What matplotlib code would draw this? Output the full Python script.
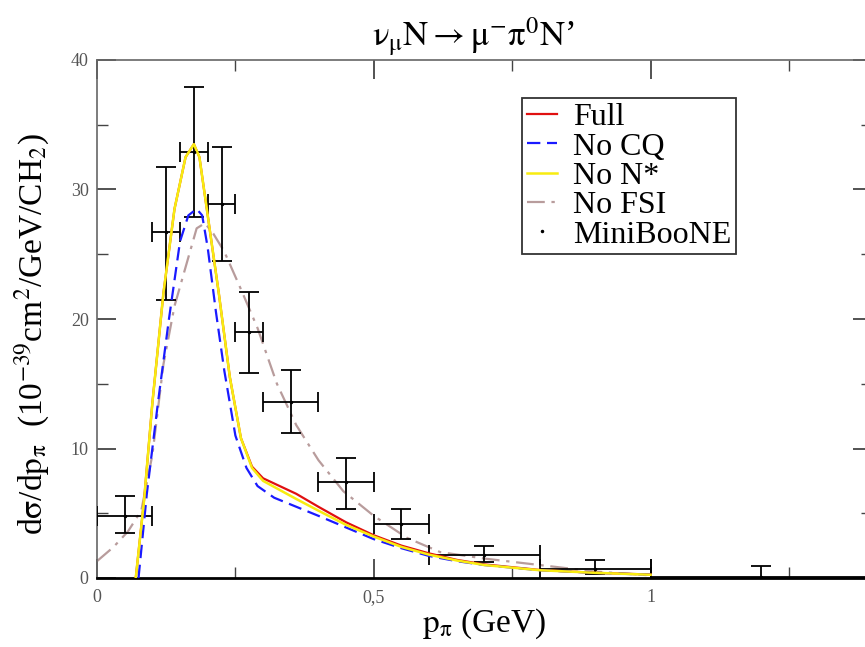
import matplotlib
matplotlib.use("Agg")
import matplotlib.pyplot as plt
from matplotlib.ticker import FixedLocator, FuncFormatter

plt.rcParams["font.family"] = ["Liberation Serif", "DejaVu Serif"]
plt.rcParams["mathtext.fontset"] = "stix"

# --- model curves ---
full_x = [0.07, 0.085, 0.10, 0.12, 0.14, 0.16, 0.175, 0.185, 0.20, 0.22, 0.24, 0.26,
          0.28, 0.30, 0.33, 0.36, 0.40, 0.45, 0.50, 0.55, 0.60, 0.65, 0.70, 0.80, 0.90, 1.00]
full_y = [0.0, 6.0, 13.5, 22.0, 28.5, 32.5, 33.5, 32.5, 28.0, 22.0, 15.5, 10.8,
          8.6, 7.7, 7.1, 6.5, 5.5, 4.3, 3.3, 2.5, 1.9, 1.4, 1.05, 0.62, 0.40, 0.27]

non_x = full_x
non_y = [0.0, 6.0, 13.5, 22.0, 28.5, 32.5, 33.5, 32.5, 28.0, 22.0, 15.5, 10.8,
         8.5, 7.5, 6.8, 6.1, 5.2, 4.1, 3.2, 2.4, 1.8, 1.35, 1.0, 0.6, 0.40, 0.25]

nocq_x = [0.075, 0.09, 0.11, 0.13, 0.15, 0.165, 0.18, 0.19, 0.20, 0.215, 0.23, 0.25,
          0.27, 0.29, 0.32, 0.36, 0.40, 0.45, 0.50, 0.55, 0.60, 0.65, 0.70, 0.80, 0.90, 1.00]
nocq_y = [0.0, 6.5, 13.5, 20.0, 26.0, 28.0, 28.5, 28.0, 25.5, 20.5, 16.0, 11.0,
          8.5, 7.1, 6.2, 5.5, 4.8, 3.9, 3.0, 2.3, 1.7, 1.3, 1.0, 0.6, 0.40, 0.25]

nofsi_x = [0.0, 0.03, 0.056, 0.08, 0.10, 0.12, 0.14, 0.16, 0.18, 0.195, 0.21, 0.23,
           0.26, 0.29, 0.325, 0.36, 0.40, 0.445, 0.50, 0.56, 0.62, 0.70, 0.80, 0.90, 1.00]
nofsi_y = [1.3, 2.4, 3.6, 5.2, 9.5, 16.5, 21.0, 24.0, 27.0, 27.4, 26.6, 25.2,
           22.3, 19.3, 15.0, 11.8, 9.1, 6.7, 4.8, 3.1, 2.0, 1.5, 1.0, 0.5, 0.2]

# --- MiniBooNE data ---
data_x = [0.05, 0.125, 0.175, 0.225, 0.275, 0.35, 0.45, 0.55, 0.70, 0.90, 1.20]
data_xerr = [0.05, 0.025, 0.025, 0.025, 0.025, 0.05, 0.05, 0.05, 0.10, 0.10, 0.20]
data_y = [4.8, 26.7, 32.9, 28.9, 19.0, 13.6, 7.4, 4.2, 1.8, 0.7, 0.05]
data_ylo = [1.3, 5.2, 5.0, 4.4, 3.2, 2.4, 2.1, 1.2, 0.6, 0.4, 0.05]
data_yhi = [1.5, 5.0, 5.0, 4.4, 3.1, 2.5, 1.9, 1.1, 0.7, 0.7, 0.85]

fig = plt.figure(figsize=(8.65, 6.47), dpi=100)
ax = fig.add_axes([97 / 865, 69 / 647, 775 / 865, 518 / 647])

ax.errorbar(data_x, data_y, xerr=data_xerr, yerr=[data_ylo, data_yhi], fmt="none",
            ecolor="black", elinewidth=1.3, capsize=7, capthick=1.3, zorder=3)
ax.plot(full_x, full_y, color="#e01010", lw=1.6, label="Full", zorder=4)
ax.plot(nocq_x, nocq_y, color="#1a1aff", lw=1.6, ls=(0, (6, 3)), label="No CQ", zorder=5)
ax.plot(non_x, non_y, color="#f8ec10", lw=1.8, label="No N*", zorder=6)
ax.plot(nofsi_x, nofsi_y, color="#b89c9c", lw=1.6, ls=(0, (8, 3, 1.5, 3)),
        label="No FSI", zorder=2)
ax.plot(data_x, data_y, ".", color="black", ms=3, label="MiniBooNE", zorder=7)

ax.set_xlim(0, 1.4)
ax.set_ylim(0, 40)
ax.xaxis.set_major_locator(FixedLocator([0, 0.5, 1.0]))
ax.xaxis.set_minor_locator(FixedLocator([0.25, 0.75, 1.25]))
ax.yaxis.set_major_locator(FixedLocator([0, 10, 20, 30, 40]))
ax.yaxis.set_minor_locator(FixedLocator([5, 15, 25, 35]))
ax.xaxis.set_major_formatter(FuncFormatter(lambda v, p: f"{v:g}".replace(".", ",")))
ax.tick_params(which="both", direction="in", top=True, right=True,
               labelsize=13, labelcolor="#555555", color="#444444")
ax.tick_params(which="major", length=14, width=1.3)
ax.tick_params(which="minor", length=8, width=1.0)
ax.tick_params(axis="x", pad=8)
ax.tick_params(axis="y", pad=6)

for side in ("left", "top", "right"):
    ax.spines[side].set_color("#666666")
    ax.spines[side].set_linewidth(1.2)
ax.spines["bottom"].set_color("black")
ax.spines["bottom"].set_linewidth(2.0)

ax.set_title(r"$\mathrm{ν}_{\mathrm{μ}}\mathrm{N} \rightarrow \mathrm{μ}^{-}\mathrm{π}^{0}\mathrm{N}$’",
             fontsize=25, pad=10, x=0.485)
ax.set_xlabel(r"$\mathrm{p}_{\mathrm{π}}$ (GeV)", fontsize=24, labelpad=0)
ax.set_ylabel(r"d$\mathrm{σ}$/d$\mathrm{p}_{\mathrm{π}}$  (10$^{-39}$cm$^{2}$/GeV/CH$_{2}$)",
              fontsize=24)
ax.yaxis.set_label_coords(-0.058, 0.47)

leg = ax.legend(loc="upper left", bbox_to_anchor=(425 / 775, 1 - 38 / 518),
                fontsize=23, frameon=True, fancybox=False, edgecolor="black",
                handlelength=0.95, handletextpad=0.5, labelspacing=0.0,
                borderpad=0.15, borderaxespad=0)
leg.get_frame().set_linewidth(1.3)

fig.savefig("out.png", dpi=100)
